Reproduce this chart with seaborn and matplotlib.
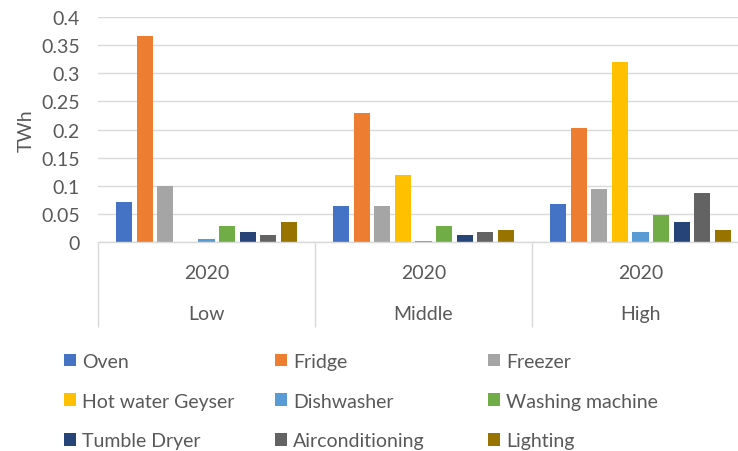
import matplotlib
matplotlib.use('Agg')
import matplotlib.pyplot as plt
import matplotlib.transforms as mtransforms
import numpy as np
import pandas as pd
import seaborn as sns

# data
groups = ['Low', 'Middle', 'High']
years = ['2020', '2020', '2020']
appliances = ['Oven', 'Fridge', 'Freezer', 'Hot water Geyser', 'Dishwasher',
              'Washing machine', 'Tumble Dryer', 'Airconditioning', 'Lighting']
low = [0.072, 0.366, 0.099, 0.0, 0.005, 0.029, 0.017, 0.013, 0.036]
middle = [0.064, 0.229, 0.064, 0.119, 0.002, 0.029, 0.013, 0.017, 0.021]
high = [0.068, 0.202, 0.095, 0.320, 0.017, 0.048, 0.036, 0.088, 0.021]
colors = ['#4472C4', '#ED7D31', '#A5A5A5', '#FFC000', '#5B9BD5',
          '#70AD47', '#264478', '#636363', '#997300']
y_ticks = [0, 0.05, 0.1, 0.15, 0.2, 0.25, 0.3, 0.35, 0.4]
y_ticklabels = ['0', '0.05', '0.1', '0.15', '0.2', '0.25', '0.3', '0.35', '0.4']

rows = []
for g, vals in zip(groups, [low, middle, high]):
    for a, v in zip(appliances, vals):
        rows.append({'Group': g, 'Appliance': a, 'TWh': v})
df = pd.DataFrame(rows)

sns.set_theme(style='white')
plt.rcParams['font.family'] = ['Lato', 'DejaVu Sans']
text_color = '#595959'
grid_color = '#D9D9D9'
fs = 14

fig = plt.figure(figsize=(7.38, 4.52), dpi=100)
ax = fig.add_axes([98 / 738, 1 - 243 / 452, 651 / 738, 225 / 452])

sns.barplot(data=df, x='Group', y='TWh', hue='Appliance', order=groups,
            hue_order=appliances, palette=colors, saturation=1,
            width=0.855, gap=0.22, linewidth=0, ax=ax)

ax.set_xlim(-0.5, 2.5)
ax.set_ylim(0, 0.4)
ax.set_yticks(y_ticks)
ax.set_yticklabels(y_ticklabels)
ax.yaxis.grid(True, color=grid_color, linewidth=1)
ax.set_axisbelow(True)
for s in ['top', 'right', 'left']:
    ax.spines[s].set_visible(False)
ax.spines['bottom'].set_color(grid_color)
ax.spines['bottom'].set_linewidth(1)

ax.tick_params(axis='y', length=0, pad=13, labelsize=fs, labelcolor=text_color)
ax.set_ylabel('TWh', fontsize=fs, color=text_color)
ax.yaxis.set_label_coords(-0.097, 0.5)

# two-level category axis
ax.set_xticks(range(len(groups)))
ax.set_xticklabels(years)
ax.tick_params(axis='x', which='major', bottom=True, length=0, pad=16,
               labelsize=fs, labelcolor=text_color)
ax.set_xticks(np.arange(len(groups) + 1) - 0.5, minor=True)
ax.tick_params(axis='x', which='minor', bottom=True, length=61, width=1,
               color=grid_color, direction='out')
ax.set_xlabel('')
trans = mtransforms.blended_transform_factory(ax.transData, ax.transAxes)
for i, g in enumerate(groups):
    ax.text(i, -0.32, g, transform=trans, ha='center', va='center',
            fontsize=fs, color=text_color)

# legend: three columns laid out like the reference
handles, labels = ax.get_legend_handles_labels()
ax.get_legend().remove()
col_x = [64, 275, 488]
for c in range(3):
    idx = [c, c + 3, c + 6]
    leg = fig.legend([handles[i] for i in idx], [labels[i] for i in idx],
                     loc='upper left', bbox_to_anchor=(col_x[c] / 738, 1 - 354 / 452),
                     frameon=False, fontsize=fs, handlelength=0.62,
                     handleheight=0.62, handletextpad=0.3, labelspacing=1.16,
                     borderpad=0, borderaxespad=0)
    for t in leg.get_texts():
        t.set_color(text_color)

fig.savefig('out.png', dpi=100)
